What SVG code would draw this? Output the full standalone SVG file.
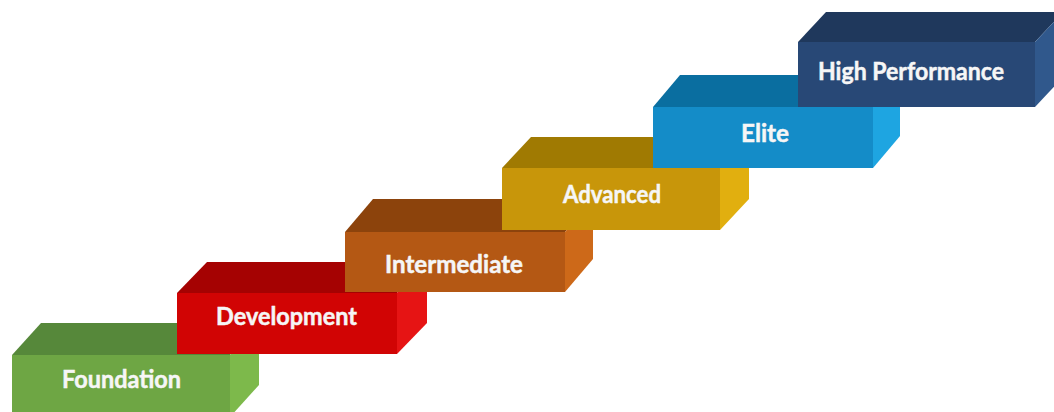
<svg xmlns="http://www.w3.org/2000/svg" width="1054" height="412" viewBox="0 0 1054 412">
  <style>
    .label { font-family: Lato, "Open Sans", "Liberation Sans", sans-serif; font-weight: 700; font-size: 25px; fill: #f6f6f6; stroke: #f6f6f6; stroke-width: 0.5px; }
  </style>
  <rect width="1054" height="412" fill="#ffffff"/>

  <!-- Step 1 -->
  <g id="foundation">
    <polygon points="12,355 41,323 259,323 230,355" fill="#56883a"/>
    <polygon points="230,355 259,323 259,385 230,417" fill="#7db94b"/>
    <rect x="12" y="355" width="218" height="62" fill="#6ea644"/>
    <text class="label" x="62" y="388" textLength="119" lengthAdjust="spacingAndGlyphs">Foundation</text>
  </g>

  <!-- Step 2 -->
  <g id="development">
    <polygon points="177,293 207,262 427,262 397,293" fill="#a50202"/>
    <polygon points="397,293 427,262 427,323 397,354" fill="#e61414"/>
    <rect x="177" y="293" width="220" height="61" fill="#d10404"/>
    <text class="label" x="216" y="325" textLength="141" lengthAdjust="spacingAndGlyphs">Development</text>
  </g>

  <!-- Step 3 -->
  <g id="intermediate">
    <polygon points="345,232 373,199 593,199 565,232" fill="#8c430c"/>
    <polygon points="565,232 593,199 593,259 565,292" fill="#cd6919"/>
    <rect x="345" y="232" width="220" height="60" fill="#b45814"/>
    <text class="label" x="385" y="273" textLength="138" lengthAdjust="spacingAndGlyphs">Intermediate</text>
  </g>

  <!-- Step 4 -->
  <g id="advanced">
    <polygon points="502,168 531,137 749,137 720,168" fill="#a07a02"/>
    <polygon points="720,168 749,137 749,199 720,230" fill="#e1af0f"/>
    <rect x="502" y="168" width="218" height="62" fill="#c8960a"/>
    <text class="label" x="563" y="203" textLength="98" lengthAdjust="spacingAndGlyphs">Advanced</text>
  </g>

  <!-- Step 5 -->
  <g id="elite">
    <polygon points="653,107 680,75 900,75 873,107" fill="#0a6ea0"/>
    <polygon points="873,107 900,75 900,136 873,168" fill="#1ea5e1"/>
    <rect x="653" y="107" width="220" height="61" fill="#148cc8"/>
    <text class="label" x="741" y="142" textLength="48" lengthAdjust="spacingAndGlyphs">Elite</text>
  </g>

  <!-- Step 6 -->
  <g id="high-performance">
    <polygon points="798,42 826,12 1063,12 1035,42" fill="#1f385c"/>
    <polygon points="1035,42 1063,12 1063,77 1035,107" fill="#30588c"/>
    <rect x="798" y="42" width="237" height="65" fill="#284876"/>
    <text class="label" x="818" y="80" textLength="186" lengthAdjust="spacingAndGlyphs">High Performance</text>
  </g>
</svg>
